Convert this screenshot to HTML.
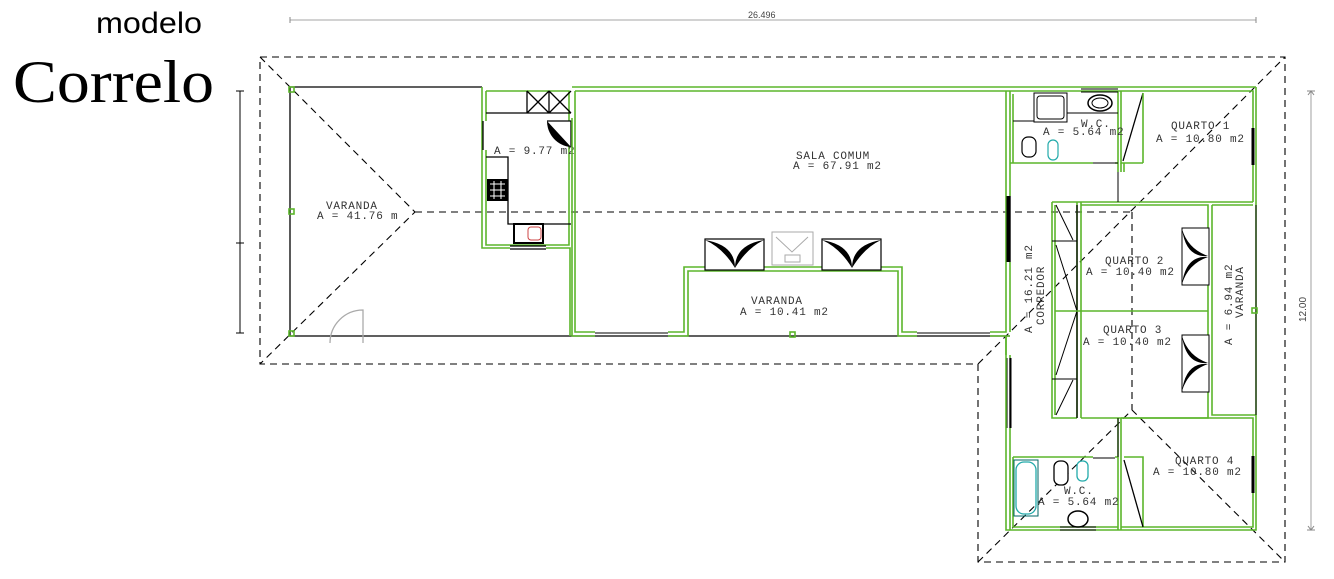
<!DOCTYPE html>
<html><head><meta charset="utf-8"><style>
html,body{margin:0;padding:0;background:#fff;width:1334px;height:579px;overflow:hidden}
svg{display:block}
.t{font-family:"Liberation Mono",monospace;font-size:11px;fill:#333;letter-spacing:0.8px}
.g{fill:none;stroke:#5bb52b;stroke-width:1.6}
.k{fill:none;stroke:#000;stroke-width:1.3}
.d{fill:none;stroke:#000;stroke-width:1.1;stroke-dasharray:7 5}
.w{fill:none;stroke:#000;stroke-width:1}
</style></head><body>
<svg width="1334" height="579" viewBox="0 0 1334 579" xmlns="http://www.w3.org/2000/svg">
<rect width="1334" height="579" fill="#fff"/>
<!-- titles -->
<text x="96" y="33" font-family="Liberation Sans, sans-serif" font-size="30" fill="#000" textLength="106" lengthAdjust="spacingAndGlyphs">modelo</text>
<text x="13" y="102" font-family="Liberation Serif, serif" font-size="60" fill="#000" textLength="201" lengthAdjust="spacingAndGlyphs">Correlo</text>
<!-- dimension lines -->
<line x1="290" y1="20" x2="1256" y2="20" stroke="#888" stroke-width="0.8"/>
<path d="M290,17v6M1256,17v6" stroke="#888"/>
<text x="748" y="18" font-family="Liberation Sans, sans-serif" font-size="9" fill="#444">26.496</text>
<line x1="1311" y1="91" x2="1311" y2="530" stroke="#888" stroke-width="0.8"/>
<path d="M1307,91h8M1307,530h8M1308,95l3,-4l3,4M1308,526l3,4l3,-4" stroke="#888" fill="none"/>
<text transform="translate(1306,322) rotate(-90)" font-family="Liberation Sans, sans-serif" font-size="10" fill="#444">12.00</text>
<line x1="240" y1="91" x2="240" y2="333" stroke="#000" stroke-width="1"/>
<path d="M236,91h8M236,243h8M236,333h8" stroke="#000"/>
<!-- roof -->
<path class="d" d="M260,57 L1285,57 L1285,562 L978,562 L978,364 L260,364 Z"/>
<path class="d" d="M260,57 L415,212 L260,364 M415,212 L1132,212 M978,364 L1285,57 M1132,212 L1132,410 M978,562 L1132,410 L1285,562"/>
<!-- left varanda -->
<path class="k" d="M290,87 H482 M290,87 V336 H1010"/>
<rect x="289" y="87" width="5" height="5" class="g"/>
<rect x="289" y="209" width="5" height="5" class="g"/>
<rect x="289" y="331" width="5" height="5" class="g"/>
<path d="M330,343 A33,33 0 0 1 363,310 V343" fill="none" stroke="#aaa" stroke-width="1.3"/>
<text class="t" x="326" y="209">VARANDA</text>
<text class="t" x="317" y="219">A = 41.76 m</text>
<!-- kitchen -->
<path class="g" d="M482,87 V248 H510 M546,248 H570 V336"/>
<path class="g" d="M486,91 V121 M486,150 V245 H569 V146 M569,121 V91 H486"/>
<path class="k" d="M483,121 V150"/>
<path class="k" d="M486,113 H571 M527,91 V113 M549,91 V113 M527,91 L549,113 M549,91 L527,113 M549,91 L571,113 M571,91 L549,113"/>
<path class="k" d="M547,121 H571 V147"/>
<path d="M547,121 A26,26 0 0 0 571,147 Z" fill="#000"/>
<path class="k" d="M486,157 H508 V224 H571"/>
<rect x="487" y="179" width="21" height="22" fill="#000"/>
<path d="M490,184h15M490,190h15M490,196h15M494,181v18M501,181v18" stroke="#fff" stroke-width="1"/>
<rect x="514" y="224" width="29" height="19" fill="#fff" stroke="#000" stroke-width="2"/>
<rect x="528" y="227" width="13" height="13" fill="none" stroke="#c44" rx="3"/>
<path d="M510,246H546M510,249H546" stroke="#000" stroke-width="1.2"/>
<text class="t" x="494" y="154">A = 9.77 m2</text>
<!-- sala -->
<path class="g" d="M572,87 H1256 M575,91 H1006 M575,91 V332 H595 M668,332 H684 V267 H705 M764,267 H822 M881,267 H902 V332 H917 M990,332 H1006 V91"/>
<path class="g" d="M572,118 V336 H595 M668,336 H688 V271 H898 V336 H917 M990,336 H1010"/>
<path d="M595,333H668M595,336H668M917,333H990M917,336H990" stroke="#000" stroke-width="1"/>
<rect x="790" y="332" width="5" height="5" class="g"/>
<g>
<rect x="705" y="239" width="59" height="31" fill="#fff" stroke="#000" stroke-width="1.2"/>
<path d="M705,240 Q735,245 735,268 Q723,248 705,240Z M764,240 Q735,245 735,268 Q747,248 764,240Z" fill="#000"/>
<rect x="822" y="239" width="59" height="31" fill="#fff" stroke="#000" stroke-width="1.2"/>
<path d="M822,240 Q852,245 852,268 Q840,248 822,240Z M881,240 Q852,245 852,268 Q864,248 881,240Z" fill="#000"/>
<rect x="772" y="232" width="41" height="33" fill="none" stroke="#aaa"/>
<path d="M776,237 L792,252 L808,237 M785,262 H800 V255 H785Z" fill="none" stroke="#aaa"/>
</g>
<text class="t" x="796" y="159">SALA COMUM</text>
<text class="t" x="793" y="169">A = 67.91 m2</text>
<text class="t" x="751" y="304">VARANDA</text>
<text class="t" x="740" y="315">A = 10.41 m2</text>
<!-- right block -->
<path class="g" d="M1010,91 V196 M1010,262 V332 M1006,91 H1253 V202 M1256,87 V530 H1010 V428 M1006,336 V355 M1010,355 V358"/>
<path d="M1010,196V262M1010,358V428" stroke="#000" stroke-width="1.4"/>
<path d="M1008,196V262" stroke="#000" stroke-width="3"/>
<path d="M1007,358V428M1011,358V428" stroke="#000" stroke-width="1"/>
<path d="M1006,337 V530 H1010" class="g"/>
<!-- WC1 -->
<path class="g" d="M1013,94 V163 H1093 M1013,163 H1010 M1118,91 V163 M1115,163 H1118 V172 M1121,91 V163 H1143"/>
<path d="M1093,163H1118" stroke="#000" stroke-width="1"/>
<path d="M1013,121H1034M1067,113H1118" stroke="#000" stroke-width="1"/>
<rect x="1034" y="93" width="33" height="29" fill="#fff" stroke="#000"/>
<rect x="1037" y="96" width="27" height="23" rx="3" fill="none" stroke="#000"/>
<ellipse cx="1100" cy="103" rx="12" ry="8" fill="none" stroke="#000" stroke-width="1.5"/>
<ellipse cx="1100" cy="103" rx="8" ry="5" fill="none" stroke="#000"/>
<path d="M1081,89H1118M1081,92H1118" stroke="#000"/>
<rect x="1022" y="137" width="14" height="20" rx="6" fill="#fff" stroke="#000" stroke-width="1.2"/>
<rect x="1048" y="140" width="10" height="20" rx="5" fill="none" stroke="#2aa" stroke-width="1.2"/>
<text class="t" x="1081" y="127">W.C.</text>
<text class="t" x="1043" y="135">A = 5.64 m2</text>
<!-- quarto1 -->
<path class="k" d="M1143,93 L1123,161" stroke="#aaa"/>
<path class="g" d="M1143,93 V163 M1121,163 V172 M1124,172 V163 M1077,202 H1253 M1253,205 H1212"/>
<path d="M1253,128V165" stroke="#000" stroke-width="3"/>
<text class="t" x="1171" y="129">QUARTO 1</text>
<text class="t" x="1156" y="142">A = 10.80 m2</text>
<!-- quartos 2/3 -->
<path class="g" d="M1052,202 V418 H1077 M1052,202 H1077 M1055,205 V415 M1077,202 V418 M1081,205 H1208 V418 H1081 M1212,205 V415 H1256 M1081,202 V418 M1118,418 V530 M1121,418 V530"/>
<path d="M1052,241H1077M1052,379H1077M1056,245 L1077,311 L1056,375M1056,205 L1073,240M1056,415 L1073,380" stroke="#000" fill="none"/>
<path class="k" d="M1077,205V418"/>
<path class="g" d="M1055,311 H1208" stroke="#9d9"/>
<path d="M1256,205V415" stroke="#000"/>
<rect x="1252" y="308" width="5" height="5" class="g"/>
<rect x="1182" y="228" width="27" height="57" fill="#fff" stroke="#000"/>
<path d="M1182,229 Q1186,258 1208,256 Q1188,249 1182,229Z M1182,284 Q1186,255 1208,257 Q1188,264 1182,284Z" fill="#000"/>
<rect x="1182" y="335" width="27" height="57" fill="#fff" stroke="#000"/>
<path d="M1182,336 Q1186,365 1208,363 Q1188,356 1182,336Z M1182,391 Q1186,362 1208,364 Q1188,371 1182,391Z" fill="#000"/>
<text class="t" x="1105" y="264">QUARTO 2</text>
<text class="t" x="1086" y="275">A = 10.40 m2</text>
<text class="t" x="1103" y="333">QUARTO 3</text>
<text class="t" x="1083" y="345">A = 10.40 m2</text>
<text class="t" transform="translate(1232,345) rotate(-90)">A = 6.94 m2</text>
<text class="t" transform="translate(1243,318) rotate(-90)">VARANDA</text>
<text class="t" transform="translate(1032,333) rotate(-90)">A = 16.21 m2</text>
<text class="t" transform="translate(1044,325) rotate(-90)">CORREDOR</text>
<!-- quarto4 -->
<path class="g" d="M1121,418 H1253 V527 H1121 M1124,457 H1143 V527"/>
<path class="k" d="M1124,460 L1143,527"/>
<path d="M1253,456V493" stroke="#000" stroke-width="3"/>
<text class="t" x="1175" y="464">QUARTO 4</text>
<text class="t" x="1153" y="475">A = 10.80 m2</text>
<!-- WC2 -->
<path class="g" d="M1013,457 H1093 M1013,457 V527 H1118 M1115,457 H1118"/>
<path d="M1093,458H1115" stroke="#000"/>
<path d="M1060,527H1096M1060,530H1096" stroke="#000"/>
<rect x="1014" y="460" width="24" height="56" fill="none" stroke="#066"/>
<rect x="1016" y="462" width="20" height="52" rx="8" fill="none" stroke="#2aa" stroke-width="1.3"/>
<rect x="1054" y="461" width="14" height="24" rx="6" fill="#fff" stroke="#000" stroke-width="1.3"/>
<rect x="1077" y="461" width="11" height="20" rx="5" fill="none" stroke="#2aa" stroke-width="1.3"/>
<ellipse cx="1078" cy="519" rx="10" ry="8" fill="none" stroke="#000" stroke-width="1.5"/>
<text class="t" x="1064" y="494">W.C.</text>
<text class="t" x="1038" y="505">A = 5.64 m2</text>
<path d="M1118,172 V202 M1118,418 V457" stroke="#000"/>
</svg>
</body></html>
